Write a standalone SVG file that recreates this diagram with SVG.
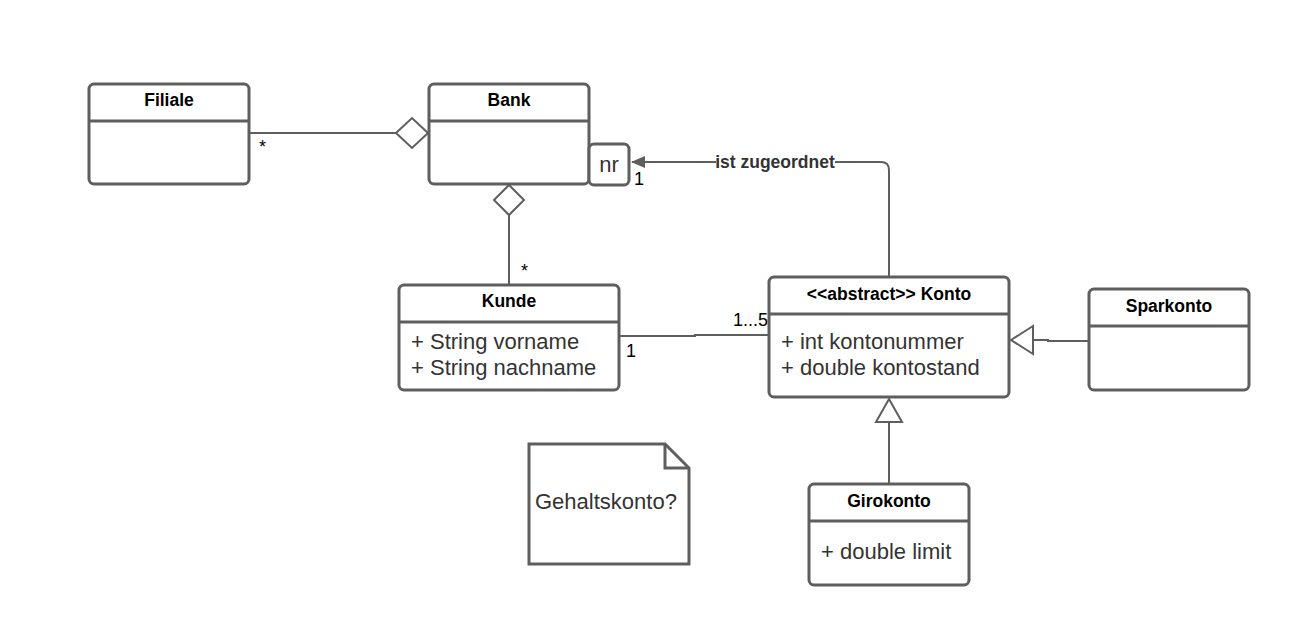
<svg xmlns="http://www.w3.org/2000/svg" width="1295" height="625" viewBox="0 0 1295 625">
<defs>
<style>
.box{fill:#fff;stroke:#5e5e5e;stroke-width:3}
.div{stroke:#5e5e5e;stroke-width:3}
.ln{fill:none;stroke:#5e5e5e;stroke-width:2}
.hd{font-family:"Liberation Sans",Arial,sans-serif;font-weight:bold;font-size:17.5px;fill:#000;text-anchor:middle}
.at{font-family:"Liberation Sans",Arial,sans-serif;font-size:22px;fill:#333}
.mu{font-family:"Liberation Sans",Arial,sans-serif;font-size:18px;fill:#000}
.lb{font-family:"Liberation Sans",Arial,sans-serif;font-weight:bold;font-size:17.5px;fill:#333;text-anchor:middle}
</style>
<marker id="filled" markerWidth="14" markerHeight="12" refX="13" refY="6" orient="auto" markerUnits="userSpaceOnUse">
<path d="M0,0 L14,6 L0,12 Z" fill="#5e5e5e"/>
</marker>
</defs>
<rect width="1295" height="625" fill="#fff"/>
<g id="connectors">
<line class="ln" x1="249" y1="133" x2="396" y2="133"/>
<path d="M396,133 L412,118 L428,133 L412,148 Z" fill="#fff" stroke="#5e5e5e" stroke-width="2"/>
<line class="ln" x1="509" y1="215" x2="509" y2="285"/>
<path d="M509,185 L524,200 L509,215 L494,200 Z" fill="#fff" stroke="#5e5e5e" stroke-width="2"/>
<path class="ln" d="M619,336 L695,336 L695,335 L769,335"/>
<path class="ln" d="M889,277 L889,170 Q889,162 881,162 L632,162" marker-end="url(#filled)"/>
<rect x="716" y="152" width="119" height="20" fill="#fff"/>
<text class="lb" x="775" y="168">ist zugeordnet</text>
<path class="ln" d="M1089,341 L1048,341 L1048,340 L1033,340"/>
<path d="M1011,340 L1033,326 L1033,354 Z" fill="#fff" stroke="#5e5e5e" stroke-width="2"/>
<line class="ln" x1="889" y1="422" x2="889" y2="484"/>
<path d="M889,399 L902,422 L876,422 Z" fill="#fff" stroke="#5e5e5e" stroke-width="2"/>
<text class="mu" x="259" y="153">*</text>
<text class="mu" x="521" y="277">*</text>
<text class="mu" x="626" y="357">1</text>
<text class="mu" x="733" y="326">1...5</text>
<text class="mu" x="634" y="185">1</text>
</g>
<g id="filiale">
<rect class="box" x="89" y="84" width="160" height="100" rx="5"/>
<line class="div" x1="89" y1="121" x2="249" y2="121"/>
<text class="hd" x="169" y="106">Filiale</text>
</g>
<g id="bank">
<rect class="box" x="429" y="84" width="160" height="100" rx="5"/>
<line class="div" x1="429" y1="121" x2="589" y2="121"/>
<text class="hd" x="509" y="106">Bank</text>
<rect class="box" x="589" y="144" width="40" height="41" rx="5"/>
<text class="at" x="609" y="172" text-anchor="middle">nr</text>
</g>
<g id="kunde">
<rect class="box" x="399" y="285" width="220" height="105" rx="5"/>
<line class="div" x1="399" y1="322" x2="619" y2="322"/>
<text class="hd" x="509" y="307">Kunde</text>
<text class="at" x="411" y="349">+ String vorname</text>
<text class="at" x="411" y="375">+ String nachname</text>
</g>
<g id="konto">
<rect class="box" x="769" y="277" width="240" height="120" rx="5"/>
<line class="div" x1="769" y1="314" x2="1009" y2="314"/>
<text class="hd" x="889" y="300">&lt;&lt;abstract&gt;&gt; Konto</text>
<text class="at" x="781" y="349">+ int kontonummer</text>
<text class="at" x="781" y="375">+ double kontostand</text>
</g>
<g id="sparkonto">
<rect class="box" x="1089" y="289" width="160" height="101" rx="5"/>
<line class="div" x1="1089" y1="326" x2="1249" y2="326"/>
<text class="hd" x="1169" y="312">Sparkonto</text>
</g>
<g id="girokonto">
<rect class="box" x="809" y="484" width="160" height="101" rx="5"/>
<line class="div" x1="809" y1="521" x2="969" y2="521"/>
<text class="hd" x="889" y="507">Girokonto</text>
<text class="at" x="821" y="559">+ double limit</text>
</g>
<g id="note">
<path d="M529,444 L665,444 L689,468 L689,564 L529,564 Z" fill="#fff" stroke="#5e5e5e" stroke-width="3"/>
<path d="M665,444 L665,468 L689,468" fill="none" stroke="#5e5e5e" stroke-width="3"/>
<text class="at" x="535" y="509">Gehaltskonto?</text>
</g>
</svg>
